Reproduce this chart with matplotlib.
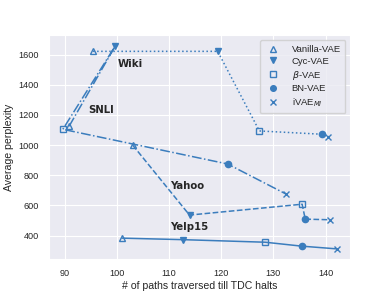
import numpy as np
from matplotlib import pyplot as plt
import seaborn as sns

sns.set_style('darkgrid')
plt.rcParams['font.family'] = ['Liberation Sans', 'DejaVu Sans']

methods = ['Vanilla-VAE', 'Cyc-VAE', r'$\beta$-VAE', 'BN-VAE', r'iVAE$_{MI}$']
datasets = ['Wiki', 'SNLI', 'Yahoo', 'Yelp15']

# paths traversed / perplexity, one entry per method (same order as methods)
paths = {
    'Wiki':   [95.4, 119.3, 127.3, 139.4, 140.5],
    'SNLI':   [90.8, 99.7, 89.6, 121.2, 132.5],
    'Yahoo':  [103.0, 113.9, 135.5, 136.1, 140.8],
    'Yelp15': [101.0, 112.6, 128.4, 135.4, 142.1],
}
ppl = {
    'Wiki':   [1622, 1622, 1094, 1072, 1057],
    'SNLI':   [1125, 1660, 1105, 875, 674],
    'Yahoo':  [1000, 536, 608, 509, 505],
    'Yelp15': [383, 373, 356, 330, 312],
}
label_pos = {
    'Wiki': (100.1, 1541),
    'SNLI': (94.4, 1232),
    'Yahoo': (110.1, 726),
    'Yelp15': (110.1, 456),
}

linestyles = {'Wiki': ':', 'SNLI': '-.', 'Yahoo': '--', 'Yelp15': '-'}
markers = ['^', 'v', 's', 'o', 'x']
filled = [False, True, False, True, True]
color = '#3b7dbd'

fig = plt.figure(figsize=(3.9, 2.93), dpi=100)
ax = fig.add_axes([0.126, 0.116, 0.772, 0.763])

for d in datasets:
    ax.plot(paths[d], ppl[d], linestyle=linestyles[d], color=color, lw=1.1)
    for i, m in enumerate(markers):
        ax.plot(paths[d][i], ppl[d][i], linestyle='none', marker=m, color=color,
                markersize=4.5, markeredgewidth=1.0,
                fillstyle='full' if filled[i] else 'none',
                label=methods[i] if d == 'Wiki' else None)
    ax.text(label_pos[d][0], label_pos[d][1], d, fontsize=7.3, fontweight='bold',
            family='DejaVu Sans', color='#262626', va='center')

ax.set_xticks([90, 100, 110, 120, 130, 140])
ax.set_yticks([400, 600, 800, 1000, 1200, 1400, 1600])
ax.tick_params(labelsize=6.6, colors='#262626', pad=4)
ax.set_xlabel('# of paths traversed till TDC halts', fontsize=7.6, labelpad=2)
ax.set_ylabel('Average perplexity', fontsize=7.6, labelpad=3)
ax.legend(loc='upper right', fontsize=6.8, frameon=True, handletextpad=1.2,
          handlelength=1.6, borderpad=0.5, labelspacing=0.3, markerscale=0.9)

plt.savefig('out.png', dpi=100)
